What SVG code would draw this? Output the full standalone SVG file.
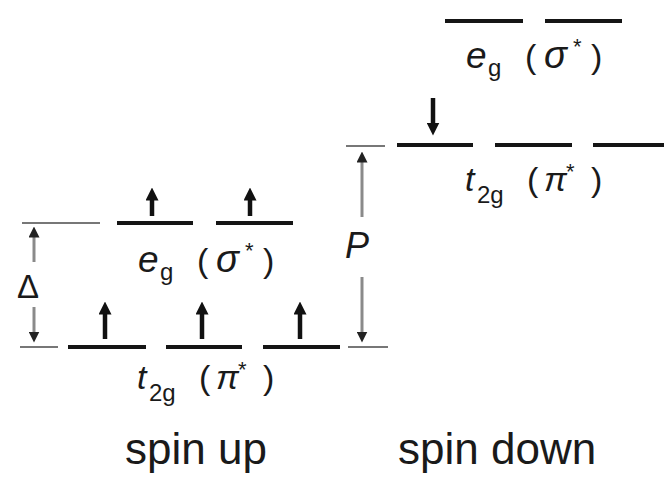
<svg xmlns="http://www.w3.org/2000/svg" width="664" height="477" viewBox="0 0 664 477">
<style>
.lvl{stroke:#151515;stroke-width:4;}
.ref{stroke:#777;stroke-width:2;}
.spin{stroke:#111;stroke-width:4.5;}
.gsh{stroke:#8a8a8a;stroke-width:3;}
text{font-family:"Liberation Sans",Arial,sans-serif;fill:#1a1a1a;}
.lab{font-size:34px;}
.big{font-size:44px;}
.it{font-style:italic;}
.gk{font-size:38px;font-style:italic;}
</style>
<defs>
<marker id="ah" viewBox="0 0 12 12" refX="6" refY="6" markerWidth="13" markerHeight="13" markerUnits="userSpaceOnUse" orient="auto">
<path d="M0,0 L12,6 L0,12 z" fill="#111"/>
</marker>
<marker id="gh" viewBox="0 0 12 12" refX="6" refY="6" markerWidth="11" markerHeight="11" markerUnits="userSpaceOnUse" orient="auto">
<path d="M0,0 L12,6 L0,12 z" fill="#222"/>
</marker>
</defs>
<rect width="664" height="477" fill="#ffffff"/>

<g id="spin-up-eg">
<line class="lvl" x1="117" y1="223" x2="193" y2="223"/>
<line class="lvl" x1="216" y1="223" x2="293" y2="223"/>
<text class="lab" y="272"><tspan class="it" x="138" font-size="37">e</tspan><tspan font-size="24" x="160" dy="8">g</tspan><tspan x="197" dy="-8">(</tspan><tspan class="gk" x="216">σ</tspan><tspan font-size="22" x="245" dy="-14">*</tspan><tspan x="263" dy="14">)</tspan></text>
</g>
<g id="spin-up-t2g">
<line class="lvl" x1="68" y1="347" x2="146" y2="347"/>
<line class="lvl" x1="166" y1="347" x2="242" y2="347"/>
<line class="lvl" x1="263" y1="347" x2="340" y2="347"/>
<text class="lab" y="389"><tspan class="it" x="137">t</tspan><tspan font-size="24" x="149" dy="12">2g</tspan><tspan x="199" dy="-12">(</tspan><tspan class="it" x="216">π</tspan><tspan font-size="22" x="238" dy="-12">*</tspan><tspan x="263" dy="12">)</tspan></text>
</g>
<g id="spin-down-eg">
<line class="lvl" x1="445" y1="21" x2="523" y2="21"/>
<line class="lvl" x1="545" y1="21" x2="622" y2="21"/>
<text class="lab" y="68"><tspan class="it" x="466" font-size="37">e</tspan><tspan font-size="24" x="488" dy="8">g</tspan><tspan x="525" dy="-8">(</tspan><tspan class="gk" x="544">σ</tspan><tspan font-size="22" x="573" dy="-14">*</tspan><tspan x="591" dy="14">)</tspan></text>
</g>
<g id="spin-down-t2g">
<line class="lvl" x1="397" y1="145" x2="473" y2="145"/>
<line class="lvl" x1="495" y1="145" x2="572" y2="145"/>
<line class="lvl" x1="593" y1="145" x2="664" y2="145"/>
<text class="lab" y="191"><tspan class="it" x="465">t</tspan><tspan font-size="24" x="477" dy="12">2g</tspan><tspan x="527" dy="-12">(</tspan><tspan class="it" x="544">π</tspan><tspan font-size="22" x="566" dy="-12">*</tspan><tspan x="591" dy="12">)</tspan></text>
</g>
<g id="reference-lines">
<line class="ref" x1="22" y1="223" x2="100" y2="223"/>
<line class="ref" x1="20" y1="347" x2="58" y2="347"/>
<line class="ref" x1="346" y1="146" x2="385" y2="146"/>
<line class="ref" x1="348" y1="347" x2="388" y2="347"/>
</g>
<g id="delta-label"><text x="17" y="298" font-size="33">Δ</text></g>
<g id="p-label"><text x="345" y="258" font-size="36" class="it">P</text></g>
<g id="spin-up-label"><text class="big" x="125" y="464">spin up</text></g>
<g id="spin-down-label"><text class="big" x="398" y="464">spin down</text></g>

<g id="connectors">
<line class="spin" x1="152" y1="216" x2="152" y2="194" marker-end="url(#ah)"/>
<line class="spin" x1="250" y1="216" x2="250" y2="194" marker-end="url(#ah)"/>
<line class="spin" x1="105" y1="339" x2="105" y2="308" marker-end="url(#ah)"/>
<line class="spin" x1="202" y1="339" x2="202" y2="308" marker-end="url(#ah)"/>
<line class="spin" x1="300" y1="339" x2="300" y2="308" marker-end="url(#ah)"/>
<line class="spin" x1="433" y1="98" x2="433" y2="129" marker-end="url(#ah)"/>
<line class="gsh" x1="34" y1="262" x2="34" y2="232" marker-end="url(#gh)"/>
<line class="gsh" x1="34" y1="307" x2="34" y2="337" marker-end="url(#gh)"/>
<line class="gsh" x1="362" y1="217" x2="362" y2="157" marker-end="url(#gh)"/>
<line class="gsh" x1="362" y1="277" x2="362" y2="337" marker-end="url(#gh)"/>
</g>
</svg>
